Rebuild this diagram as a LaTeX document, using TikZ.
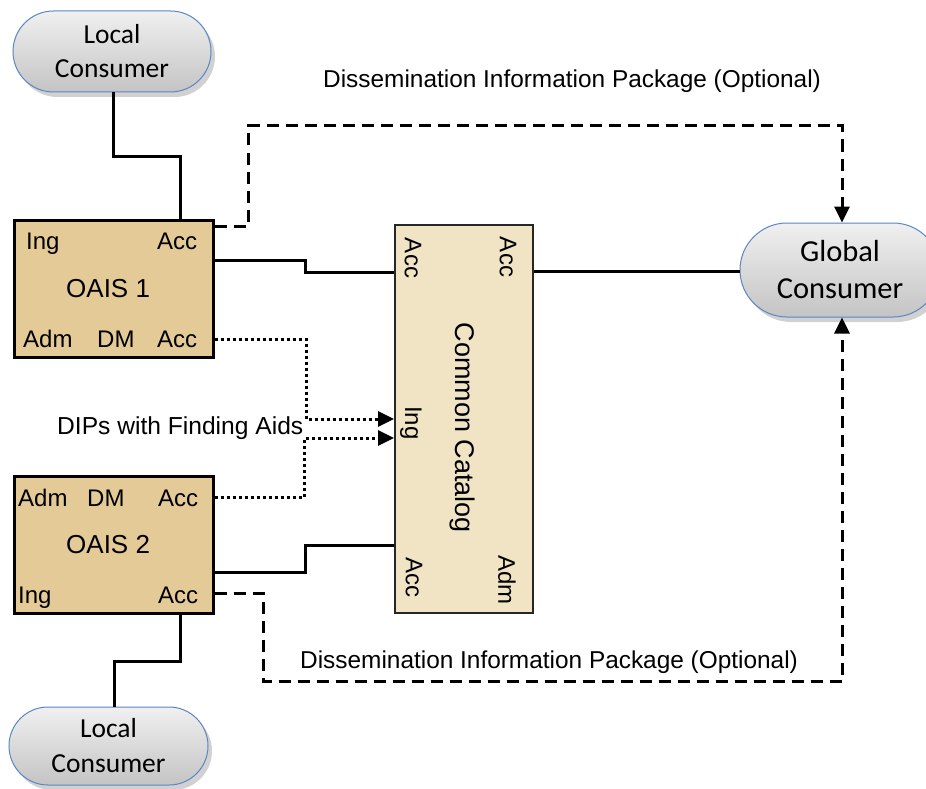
\documentclass[tikz,border=0pt]{standalone}
\usepackage{fontspec}
\setmainfont{Liberation Sans}
\newfontfamily\calfont{Carlito}
\usetikzlibrary{arrows.meta,shapes.misc,shadows}
\definecolor{papyrus}{HTML}{E4CA97}
\definecolor{catfill}{HTML}{F1E4C4}
\definecolor{pillblue}{HTML}{5A86C5}
\definecolor{pilltop}{HTML}{F0F0F0}
\definecolor{pillbot}{HTML}{C4C4C4}
\begin{document}
\begin{tikzpicture}[x=1pt,y=-1pt,
  pill/.style={rounded rectangle, draw=pillblue, line width=1pt,
    top color=pilltop, bottom color=pillbot,
    drop shadow={shadow xshift=4pt, shadow yshift=-5pt, opacity=0.3, fill=black!60},
    align=center, inner sep=0pt},
  oaisbox/.style={draw=black, line width=3pt, fill=papyrus, inner sep=0pt},
  ccbox/.style={draw=black!85, line width=2pt, fill=catfill, inner sep=0pt},
  lbl/.style={font=\fontsize{24}{28}\selectfont, inner sep=0pt, anchor=base west},
  rlbl/.style={font=\fontsize{24}{28}\selectfont, inner sep=0pt, rotate=-90},
  wire/.style={line width=3pt},
  dashwire/.style={line width=3pt, dash pattern=on 12pt off 7pt},
  dotwire/.style={line width=3pt, dash pattern=on 3pt off 3pt},
  tip/.style={-{Triangle[length=16pt,width=15pt]}}
]
\useasboundingbox (0,0) rectangle (926,789);

% consumers
\node[pill, minimum width=198pt, minimum height=81pt,
      font=\calfont\fontsize{27.5}{34}\selectfont] (lc1) at (112,51.5) {Local\\Consumer};
\node[pill, minimum width=199pt, minimum height=78pt,
      font=\calfont\fontsize{27.5}{35}\selectfont] (lc2) at (108.5,746) {Local\\Consumer};
\node[pill, minimum width=200pt, minimum height=94pt,
      font=\calfont\fontsize{30.5}{37}\selectfont] (gc) at (840,270) {Global\\Consumer};

% OAIS boxes
\node[oaisbox, minimum width=199pt, minimum height=137pt] (oais1) at (113.5,288.5) {};
\node[oaisbox, minimum width=199pt, minimum height=137pt] (oais2) at (113.5,545) {};
\node[ccbox, minimum width=138pt, minimum height=388pt] (cc) at (464,419) {};

% OAIS 1 labels
\node[lbl] (o1ing) at (26,249) {Ing};
\node[lbl] (o1acca) at (157,249) {Acc};
\node[lbl, font=\fontsize{26}{30}\selectfont] (o1name) at (66,297) {OAIS 1};
\node[lbl] (o1adm) at (23,347) {Adm};
\node[lbl] (o1dm) at (97,347) {DM};
\node[lbl] (o1accb) at (157,347) {Acc};

% OAIS 2 labels
\node[lbl] (o2adm) at (18,506) {Adm};
\node[lbl] (o2dm) at (87,506) {DM};
\node[lbl] (o2acca) at (158,506) {Acc};
\node[lbl, font=\fontsize{26}{30}\selectfont] (o2name) at (66,553) {OAIS 2};
\node[lbl] (o2ing) at (18,603) {Ing};
\node[lbl] (o2accb) at (158,603) {Acc};

% Common catalog labels
\node[rlbl] (ccacc1) at (413,258) {Acc};
\node[rlbl] (ccacc2) at (508,257) {Acc};
\node[rlbl] (ccing) at (411,423) {Ing};
\node[rlbl, font=\fontsize{27}{30}\selectfont] (ccname) at (462,428) {Common Catalog};
\node[rlbl] (ccacc3) at (414,577) {Acc};
\node[rlbl] (ccadm) at (507,580) {Adm};

% free labels
\node[lbl, font=\fontsize{24.4}{28}\selectfont] (diptop) at (323,88) {Dissemination Information Package (Optional)};
\node[lbl, font=\fontsize{24.4}{28}\selectfont] (dipbot) at (300,668) {Dissemination Information Package (Optional)};
\node[lbl, font=\fontsize{24.6}{28}\selectfont] (dipfa) at (57,434) {DIPs with Finding Aids};

% local consumer links
\draw[wire] (lc1.south -| 113,0) -- (113,156) -- (180,156) -- (oais1.north -| 180,0);
\draw[wire] (oais2.south -| 180,0) -- (180,661) -- (114,661) -- (lc2.north -| 114,0);

% OAIS -> catalog solid links
\draw[wire] (oais1.east |- 0,260) -- (305,260) -- (305,272) -- (cc.west |- 0,272);
\draw[wire] (oais2.east |- 0,572) -- (305,572) -- (305,545) -- (cc.west |- 0,545);
\draw[wire] (cc.east |- 0,271) -- (gc.west |- 0,271);

% DIPs with finding aids (dotted)
\draw[dotwire, tip] (oais1.east |- 0,339) -- (306,339) -- (306,419) -- (cc.west |- 0,419);
\draw[dotwire, tip] (oais2.east |- 0,497) -- (304,497) -- (304,438) -- (cc.west |- 0,438);

% optional DIPs (dashed)
\draw[dashwire, tip] (oais1.east |- 0,226) -- (248,226) -- (248,126) -- (842,126) -- (gc.north -| 842,0);
\draw[dashwire, tip] (oais2.east |- 0,593) -- (263,593) -- (263,681) -- (842,681) -- (gc.south -| 842,0);
\end{tikzpicture}
\end{document}
